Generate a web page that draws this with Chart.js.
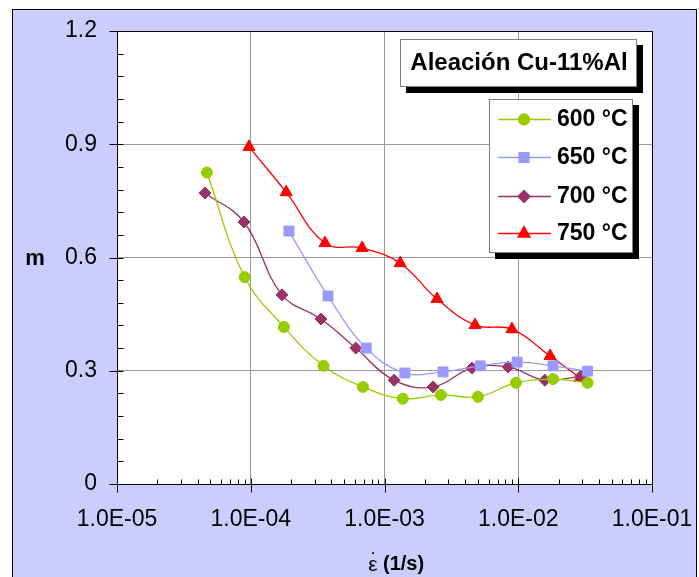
<!DOCTYPE html>
<html>
<head>
<meta charset="utf-8">
<script src="https://cdn.jsdelivr.net/npm/chart.js@4.4.0/dist/chart.umd.min.js"></script>
<style>
  body { margin: 0; background: #fff; }
  #c { display: block; }
</style>
</head>
<body>
<canvas id="c" width="699" height="577"></canvas>
<script>
// strain rate (1/s) and m values
const x600 = [4.7e-5, 9.0e-5, 1.77e-4, 3.5e-4, 6.9e-4, 1.37e-3, 2.64e-3, 5.0e-3, 9.6e-3, 1.82e-2, 3.3e-2];
const m600 = [0.825, 0.548, 0.416, 0.313, 0.257, 0.226, 0.236, 0.231, 0.268, 0.278, 0.268];

const x650 = [1.93e-4, 3.78e-4, 7.3e-4, 1.42e-3, 2.74e-3, 5.2e-3, 9.8e-3, 1.82e-2, 3.3e-2];
const m650 = [0.670, 0.498, 0.360, 0.294, 0.297, 0.313, 0.323, 0.313, 0.299];

const x700 = [4.55e-5, 8.9e-5, 1.71e-4, 3.35e-4, 6.1e-4, 1.18e-3, 2.31e-3, 4.5e-3, 8.4e-3, 1.58e-2, 2.94e-2];
const m700 = [0.771, 0.694, 0.501, 0.437, 0.360, 0.275, 0.257, 0.307, 0.310, 0.275, 0.286];

const x750 = [9.7e-5, 1.84e-4, 3.59e-4, 6.8e-4, 1.31e-3, 2.47e-3, 4.75e-3, 8.97e-3, 1.73e-2, 2.9e-2];
const m750 = [0.893, 0.773, 0.638, 0.625, 0.585, 0.490, 0.421, 0.410, 0.339, 0.281];

const seriesLabels = ["600 °C", "650 °C", "700 °C", "750 °C"];

const xTicks = [1e-5, 1e-4, 1e-3, 1e-2, 1e-1];
const xTickLabels = ["1.0E-05", "1.0E-04", "1.0E-03", "1.0E-02", "1.0E-01"];
const yTicks = [0, 0.3, 0.6, 0.9, 1.2];
const yTickLabels = ["0", "0.3", "0.6", "0.9", "1.2"];

const chartTitle = "Aleación Cu-11%Al";
const yTitle = "m";

const FONT = "'Liberation Sans', Arial, sans-serif";

function pts(xs, ys) {
  return xs.map((x, i) => ({ x: x, y: ys[i] }));
}

function line(label, xs, ys, color, style, r) {
  return {
    label: label,
    data: pts(xs, ys),
    borderColor: color,
    backgroundColor: color,
    pointBackgroundColor: color,
    pointBorderColor: color,
    pointBorderWidth: 1,
    borderWidth: 1.3,
    pointStyle: style,
    pointRadius: r,
    pointHoverRadius: r,
    tension: 0.4,
    showLine: true
  };
}

// background, frame, minor ticks, boxes and axis titles
const decor = {
  id: "decor",
  beforeDraw(chart) {
    const ctx = chart.ctx, a = chart.chartArea;
    ctx.save();
    ctx.fillStyle = "#fff";
    ctx.fillRect(0, 0, chart.width, chart.height);
    ctx.fillStyle = "#ccccff";
    ctx.fillRect(12.5, 9.5, 684, 600);
    ctx.strokeStyle = "#000";
    ctx.lineWidth = 1;
    ctx.strokeRect(12.5, 9.5, 684, 600);
    ctx.fillStyle = "#fff";
    ctx.fillRect(a.left, a.top, a.right - a.left, a.bottom - a.top);
    ctx.restore();
  },
  afterDraw(chart) {
    const ctx = chart.ctx, a = chart.chartArea;
    const xs = chart.scales.x, ys = chart.scales.y;
    ctx.save();
    ctx.strokeStyle = "#000";
    ctx.lineWidth = 1;
    ctx.strokeRect(Math.round(a.left) + 0.5, Math.round(a.top) + 0.5,
      Math.round(a.right - a.left), Math.round(a.bottom - a.top));

    const L = Math.round(a.left) + 0.5, B = Math.round(a.bottom) + 0.5;
    ctx.beginPath();
    // y ticks
    for (let i = 0; i <= 20; i++) {
      const y = Math.round(ys.getPixelForValue(i * 0.06)) + 0.5;
      if (i % 5 === 0) { ctx.moveTo(L - 8, y); ctx.lineTo(L + 6, y); }
      else { ctx.moveTo(L, y); ctx.lineTo(L + 6, y); }
    }
    // x ticks
    xTicks.forEach((d, i) => {
      const x = Math.round(xs.getPixelForValue(d)) + 0.5;
      ctx.moveTo(x, B + 8); ctx.lineTo(x, B - 6);
      if (i < xTicks.length - 1) {
        for (let k = 2; k <= 9; k++) {
          const xm = Math.round(xs.getPixelForValue(k * d)) + 0.5;
          ctx.moveTo(xm, B); ctx.lineTo(xm, B - 5);
        }
      }
    });
    ctx.stroke();

    // title box
    ctx.fillStyle = "#000";
    ctx.fillRect(406, 45, 237, 48);
    ctx.fillStyle = "#fff";
    ctx.fillRect(400, 39, 237, 48);
    ctx.strokeStyle = "#808080";
    ctx.strokeRect(400.5, 39.5, 236, 47);
    ctx.fillStyle = "#000";
    ctx.font = "bold 24px " + FONT;
    ctx.textBaseline = "middle";
    ctx.textAlign = "center";
    ctx.fillText(chartTitle, 519, 63);

    // legend box
    ctx.fillStyle = "#000";
    ctx.fillRect(495, 105, 144, 154);
    ctx.fillStyle = "#fff";
    ctx.fillRect(489, 99, 144, 154);
    ctx.strokeStyle = "#808080";
    ctx.strokeRect(489.5, 99.5, 143, 153);
    const rows = [119, 157, 196, 233];
    ctx.font = "bold 23px " + FONT;
    ctx.textAlign = "left";
    chart.data.datasets.forEach((ds, i) => {
      const y = rows[i];
      ctx.strokeStyle = ds.borderColor;
      ctx.lineWidth = 1.3;
      ctx.beginPath();
      ctx.moveTo(498, y + 0.5);
      ctx.lineTo(551, y + 0.5);
      ctx.stroke();
      ctx.fillStyle = ds.pointBackgroundColor;
      Chart.helpers.drawPoint(ctx, {
        pointStyle: ds.pointStyle, radius: ds.pointRadius, rotation: 0, borderWidth: 1
      }, 524, y + 0.5);
      ctx.fillStyle = "#000";
      ctx.fillText(ds.label, 557, y + 1);
    });

    // axis titles
    ctx.fillStyle = "#000";
    ctx.textAlign = "center";
    ctx.font = "bold 22px " + FONT;
    ctx.fillText(yTitle, 35, 259);
    ctx.font = "21px " + FONT;
    ctx.fillText("\u03b5", 373, 565);
    ctx.fillText("\u02d9", 374, 561);
    ctx.textAlign = "left";
    ctx.font = "bold 20px " + FONT;
    ctx.fillText("(1/s)", 383, 564);
    ctx.restore();
  }
};

new Chart(document.getElementById("c"), {
  type: "scatter",
  data: {
    datasets: [
      line(seriesLabels[0], x600, m600, "#99cc00", "circle", 5.5),
      line(seriesLabels[1], x650, m650, "#9999ff", "rect", 7),
      line(seriesLabels[2], x700, m700, "#993366", "rectRot", 6),
      line(seriesLabels[3], x750, m750, "#ff0000", "triangle", 7)
    ]
  },
  options: {
    responsive: false,
    animation: false,
    layout: { padding: { top: 31, right: 47, left: 0, bottom: 0 } },
    plugins: {
      legend: { display: false },
      tooltip: { enabled: false }
    },
    scales: {
      x: {
        type: "logarithmic",
        min: 1e-5,
        max: 1e-1,
        afterBuildTicks: s => { s.ticks = xTicks.map(v => ({ value: v })); },
        afterFit: s => { s.height = 93; s.paddingLeft = 0; s.paddingRight = 0; },
        ticks: {
          callback: (v, i) => xTickLabels[i],
          color: "#000",
          font: { family: FONT, size: 23 },
          padding: 22,
          maxRotation: 0,
          autoSkip: false
        },
        grid: { color: "#999", drawTicks: false },
        border: { color: "#000" }
      },
      y: {
        min: 0,
        max: 1.2,
        afterBuildTicks: s => { s.ticks = yTicks.map(v => ({ value: v })); },
        afterFit: s => { s.width = 117; s.paddingTop = 0; s.paddingBottom = 0; },
        ticks: {
          callback: (v, i) => yTickLabels[i],
          color: "#000",
          font: { family: FONT, size: 23 },
          padding: 20
        },
        grid: { color: "#999", drawTicks: false },
        border: { color: "#000" }
      }
    }
  },
  plugins: [decor]
});
</script>
</body>
</html>
